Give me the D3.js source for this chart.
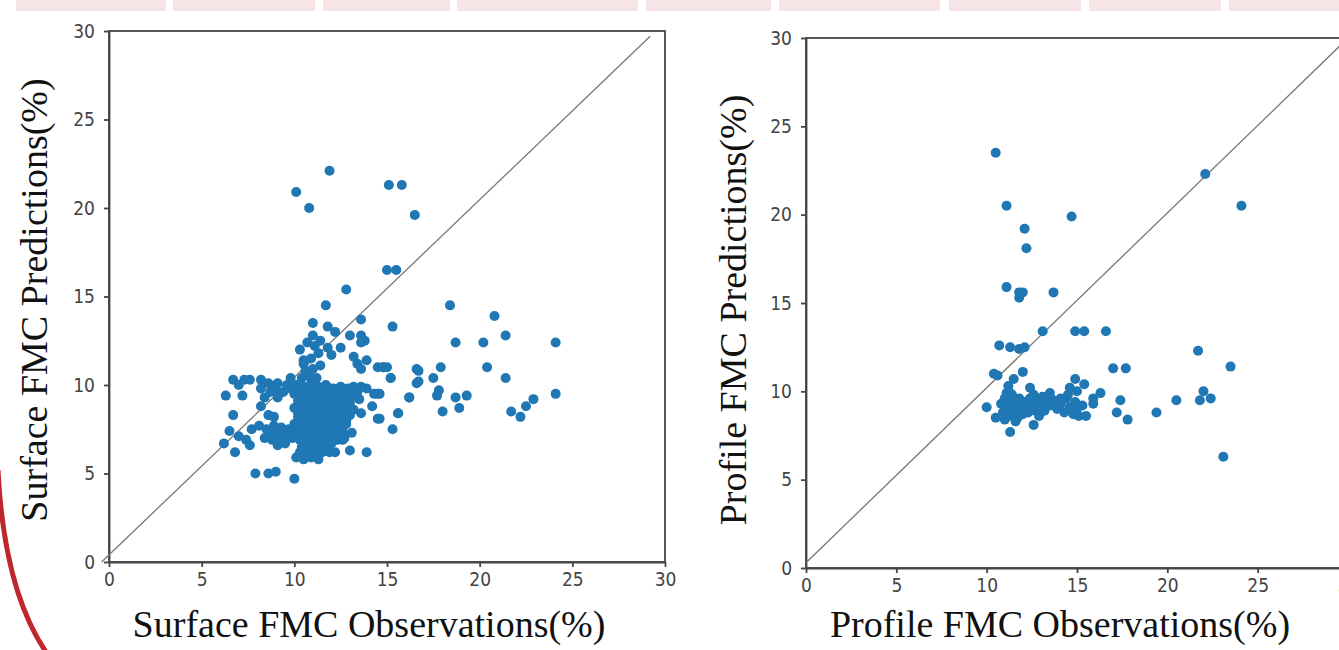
<!DOCTYPE html>
<html>
<head>
<meta charset="utf-8">
<script src="https://d3js.org/d3.v7.min.js"></script>
<style>
  body { margin: 0; background: #fff; }
  svg { display: block; }
  .tick text { font-family: "DejaVu Sans Condensed", "DejaVu Sans", sans-serif; font-size: 19px; fill: #444; }
  .domain, .tick line { stroke: #444; stroke-width: 1.8; }
  .label { font-family: "Liberation Serif", "Times New Roman", serif; font-size: 38px; fill: #111; }
</style>
</head>
<body>
<svg id="chart" width="1339" height="650"></svg>
<script>
// tick values used on both panels
const ticks = [0, 5, 10, 15, 20, 25, 30];

// surface FMC: [observation, prediction]
const surfaceObs = [
  [11.9, 22.1], [10.1, 20.9], [10.8, 20.0], [15.1, 21.3], [15.8, 21.3], [16.5, 19.6],
  [15.0, 16.5], [15.5, 16.5], [12.8, 15.4], [11.7, 14.5], [13.6, 13.7], [15.3, 13.3],
  [11.0, 13.5], [11.8, 13.3], [12.2, 13.0], [13.0, 12.8], [13.6, 12.8], [13.8, 12.5],
  [13.6, 12.4], [11.0, 12.8], [11.4, 12.5], [10.7, 12.4], [12.5, 12.1], [10.3, 12.0],
  [10.5, 11.4], [11.8, 12.1], [12.0, 11.7], [13.2, 11.6], [13.4, 11.2], [13.6, 10.9],
  [13.9, 11.4], [14.5, 11.0], [14.8, 11.0], [15.2, 10.4], [16.6, 10.9], [16.6, 10.1],
  [16.2, 9.3], [15.6, 8.4], [15.3, 7.5], [14.5, 8.1], [13.9, 9.8], [14.3, 9.5],
  [14.5, 9.5], [14.2, 8.8], [13.6, 8.4], [13.9, 6.2], [13.0, 6.3], [12.2, 6.2],
  [11.9, 6.2], [13.1, 7.3], [12.6, 6.9], [6.3, 9.4], [6.7, 10.3], [7.3, 10.3],
  [7.0, 10.0], [7.2, 9.4], [7.6, 10.3], [8.2, 10.3], [8.6, 10.1], [9.1, 10.1],
  [8.2, 9.8], [8.7, 9.6], [9.1, 9.3], [8.4, 9.3], [8.2, 8.8], [8.6, 8.3],
  [8.9, 8.2], [6.7, 8.3], [6.5, 7.4], [6.2, 6.7], [6.8, 6.2], [7.0, 7.1],
  [7.4, 6.9], [7.6, 6.6], [7.7, 7.5], [8.1, 7.7], [7.9, 5.0], [8.6, 5.0],
  [9.0, 5.1], [10.0, 4.7], [9.8, 10.4], [9.8, 9.8],
  [18.4, 14.5], [20.8, 13.9], [21.4, 12.8], [18.7, 12.4], [20.2, 12.4], [24.1, 12.4],
  [14.8, 11.0], [15.0, 11.0], [16.7, 10.8], [17.9, 11.0], [16.7, 10.2], [17.5, 10.4],
  [15.2, 10.4], [20.4, 11.0], [21.4, 10.4], [17.8, 9.7], [17.7, 9.4], [16.2, 9.3],
  [18.7, 9.3], [19.3, 9.4], [18.9, 8.7], [18.0, 8.5], [15.6, 8.4], [14.6, 9.5],
  [14.6, 8.1], [21.7, 8.5], [22.2, 8.2], [22.5, 8.8], [22.9, 9.2], [24.1, 9.5],
  [10.1, 10.0], [10.5, 9.9], [10.9, 10.1], [11.3, 9.9], [11.7, 10.0], [12.1, 9.8],
  [12.5, 9.9], [12.9, 9.8], [13.2, 9.9], [10.0, 9.5], [10.4, 9.6], [10.8, 9.5],
  [11.2, 9.7], [11.6, 9.5], [12.0, 9.6], [12.4, 9.4], [12.8, 9.6], [13.1, 9.5],
  [10.2, 9.1], [10.6, 9.2], [11.0, 9.0], [11.4, 9.2], [11.8, 9.1], [12.2, 9.0],
  [12.6, 9.2], [13.0, 9.0], [10.0, 8.7], [10.4, 8.6], [10.8, 8.8], [11.2, 8.6],
  [11.6, 8.7], [12.0, 8.8], [12.4, 8.6], [12.8, 8.7], [13.2, 8.6], [10.2, 8.2],
  [10.6, 8.3], [11.0, 8.1], [11.4, 8.2], [11.8, 8.3], [12.2, 8.1], [12.6, 8.2],
  [13.0, 8.3], [10.0, 7.8], [10.4, 7.7], [10.8, 7.9], [11.2, 7.7], [11.6, 7.8],
  [12.0, 7.9], [12.4, 7.7], [12.8, 7.8], [10.2, 7.4], [10.6, 7.3], [11.0, 7.5],
  [11.4, 7.3], [11.8, 7.4], [12.2, 7.5], [12.6, 7.3], [9.9, 7.0], [10.3, 6.9],
  [10.7, 7.1], [11.1, 6.9], [11.5, 7.0], [11.9, 7.1], [12.3, 6.9], [12.7, 7.0],
  [10.4, 6.5], [10.8, 6.7], [11.2, 6.6], [11.6, 6.5], [12.0, 6.7], [10.3, 6.2],
  [10.7, 6.1], [11.1, 6.3], [11.5, 6.2], [10.5, 5.8], [10.9, 5.9], [11.3, 5.8],
  [10.1, 5.9], [10.4, 10.4], [10.6, 10.8], [10.5, 11.2], [10.8, 10.5], [11.0, 10.9],
  [11.2, 10.4], [11.4, 11.1], [10.9, 11.5], [11.3, 11.8], [11.1, 12.2], [8.5, 7.5],
  [8.9, 7.7], [9.3, 7.6], [9.7, 7.5], [8.4, 7.0], [8.8, 6.9], [9.2, 7.1],
  [9.6, 7.0], [9.1, 6.6], [9.5, 6.7], [8.7, 7.3], [9.4, 7.4], [9.0, 9.8],
  [9.4, 9.6], [9.6, 10.0], [13.4, 9.6], [13.6, 9.9], [13.5, 9.2],
  // fill of the dense core
  [10.3, 9.8], [10.7, 9.75], [11.1, 9.8], [11.5, 9.75], [11.9, 9.8], [12.3, 9.7],
  [12.7, 9.75], [13.0, 9.7], [10.2, 9.35], [10.6, 9.4], [11.0, 9.3], [11.4, 9.4],
  [11.8, 9.3], [12.2, 9.35], [12.6, 9.4], [13.0, 9.3], [10.4, 8.9], [10.8, 9.0],
  [11.2, 8.9], [11.6, 8.95], [12.0, 8.9], [12.4, 8.95], [12.8, 8.9], [10.2, 8.45],
  [10.6, 8.5], [11.0, 8.4], [11.4, 8.45], [11.8, 8.5], [12.2, 8.4], [12.6, 8.45],
  [13.0, 8.5], [10.4, 8.0], [10.8, 8.05], [11.2, 8.0], [11.6, 8.05], [12.0, 8.0],
  [12.4, 8.05], [12.8, 8.0], [10.2, 7.6], [10.6, 7.55], [11.0, 7.6], [11.4, 7.55],
  [11.8, 7.6], [12.2, 7.65], [12.6, 7.55], [10.0, 7.2], [10.4, 7.15], [10.8, 7.25],
  [11.2, 7.2], [11.6, 7.15], [12.0, 7.25], [12.4, 7.2], [10.6, 6.8], [11.0, 6.75],
  [11.4, 6.8], [11.8, 6.85], [10.5, 6.35], [10.9, 6.4], [11.3, 6.4], [10.7, 6.0],
  [9.2, 7.3], [9.0, 6.95], [9.7, 7.25]
];

// profile FMC: [observation, prediction]
const profileObs = [
  [10.5, 23.5], [22.1, 22.3], [24.1, 20.5], [11.1, 20.5], [14.7, 19.9], [12.1, 19.2],
  [12.2, 18.1], [11.1, 15.9], [11.8, 15.6], [12.0, 15.6], [11.8, 15.3], [13.7, 15.6],
  [13.1, 13.4], [14.9, 13.4], [15.4, 13.4], [16.6, 13.4], [10.7, 12.6], [11.3, 12.5],
  [11.8, 12.4], [12.1, 12.5], [21.7, 12.3], [23.5, 11.4], [17.0, 11.3], [17.7, 11.3],
  [10.4, 11.0], [10.6, 10.9], [12.0, 11.1], [11.5, 10.7], [11.2, 10.3], [12.4, 10.2],
  [14.9, 10.7], [14.6, 10.2], [15.4, 10.4], [16.3, 9.9], [17.4, 9.5], [20.5, 9.5],
  [21.8, 9.5], [22.0, 10.0], [22.4, 9.6], [19.4, 8.8], [17.2, 8.8], [17.8, 8.4],
  [15.5, 8.6], [15.9, 9.3], [15.9, 9.6], [15.3, 9.2], [10.0, 9.1], [10.5, 8.5],
  [11.3, 7.7], [12.6, 8.1], [23.1, 6.3], [11.1, 9.9], [13.5, 9.9], [14.1, 9.6],
  [15.0, 10.0], [10.8, 9.3], [10.9, 8.8], [11.0, 9.6], [11.1, 9.0], [11.2, 8.6],
  [11.3, 9.4], [11.4, 9.8], [11.5, 8.9], [11.6, 9.2], [11.7, 8.5], [11.8, 9.6],
  [11.9, 9.0], [12.0, 8.7], [12.1, 9.4], [12.2, 9.1], [12.3, 8.8], [12.4, 9.6],
  [12.5, 9.2], [12.7, 8.9], [12.8, 9.5], [13.0, 9.3], [13.2, 8.9], [13.3, 9.6],
  [13.5, 9.2], [13.7, 9.5], [13.9, 9.0], [14.1, 9.3], [14.3, 8.8], [14.4, 9.6],
  [14.6, 9.1], [14.8, 8.7], [14.9, 9.4], [15.0, 9.0], [15.1, 8.6], [11.0, 8.4],
  [11.6, 8.3], [12.6, 9.8], [13.1, 9.7], [14.5, 9.8], [11.3, 9.9], [12.9, 8.6]
];

// 1:1 reference lines
const surfaceDiag = [[-0.4, 0], [29.2, 29.7]];
const profileDiag = [[0, 0.3], [29.8, 29.8]];

const xLabels = ['Surface FMC Observations(%)', 'Profile FMC Observations(%)'];
const yLabels = ['Surface FMC Predictions(%)', 'Profile FMC Predictions(%)'];

const svg = d3.select('svg#chart');

// banner blocks across the top of the slide
const banner = [[16, 166], [173, 315], [323, 450], [457, 638], [646, 771],
                [779, 940], [949, 1081], [1089, 1221], [1229, 1339]];
svg.selectAll('rect.banner').data(banner).enter().append('rect')
  .attr('x', d => d[0]).attr('y', 0)
  .attr('width', d => d[1] - d[0]).attr('height', 11)
  .attr('fill', '#f7e4e6');

// red arc at the lower left
svg.append('path')
  .attr('d', 'M-2,470 Q4,590 46,652')
  .attr('fill', 'none').attr('stroke', '#c0262d').attr('stroke-width', 5);

const panels = [
  { left: 109, right: 665, top: 31, bottom: 562, data: surfaceObs, diag: surfaceDiag,
    xl: xLabels[0], yl: yLabels[0], xlx: 369, yly: 300, ylx: 47 },
  { left: 806, right: 1348, top: 38, bottom: 568, data: profileObs, diag: profileDiag,
    xl: xLabels[1], yl: yLabels[1], xlx: 1060, yly: 310, ylx: 746 },
];

panels.forEach(p => {
  const x = d3.scaleLinear().domain([0, 30]).range([p.left, p.right]);
  const y = d3.scaleLinear().domain([0, 30]).range([p.bottom, p.top]);
  const g = svg.append('g');

  // frame
  g.append('rect')
    .attr('x', p.left).attr('y', p.top)
    .attr('width', p.right - p.left).attr('height', p.bottom - p.top)
    .attr('fill', 'none').attr('stroke', '#444').attr('stroke-width', 1.8);

  g.append('g').attr('transform', 'translate(0,' + p.bottom + ')')
    .call(d3.axisBottom(x).tickValues(ticks).tickSize(5).tickPadding(6).tickSizeOuter(0));
  g.append('g').attr('transform', 'translate(' + p.left + ',0)')
    .call(d3.axisLeft(y).tickValues(ticks).tickSize(5).tickPadding(9).tickSizeOuter(0));

  g.append('line')
    .attr('x1', x(p.diag[0][0])).attr('y1', y(p.diag[0][1]))
    .attr('x2', x(p.diag[1][0])).attr('y2', y(p.diag[1][1]))
    .attr('stroke', '#777').attr('stroke-width', 1.3);

  g.selectAll('circle').data(p.data).enter().append('circle')
    .attr('cx', d => x(d[0])).attr('cy', d => y(d[1]))
    .attr('r', 5).attr('fill', '#1f77b4');

  g.append('text').classed('label', true)
    .attr('x', p.xlx).attr('y', 637).attr('text-anchor', 'middle')
    .text(p.xl);
  g.append('text').classed('label', true)
    .attr('transform', 'translate(' + p.ylx + ',' + p.yly + ') rotate(-90)')
    .attr('text-anchor', 'middle')
    .text(p.yl);
});
</script>
</body>
</html>
